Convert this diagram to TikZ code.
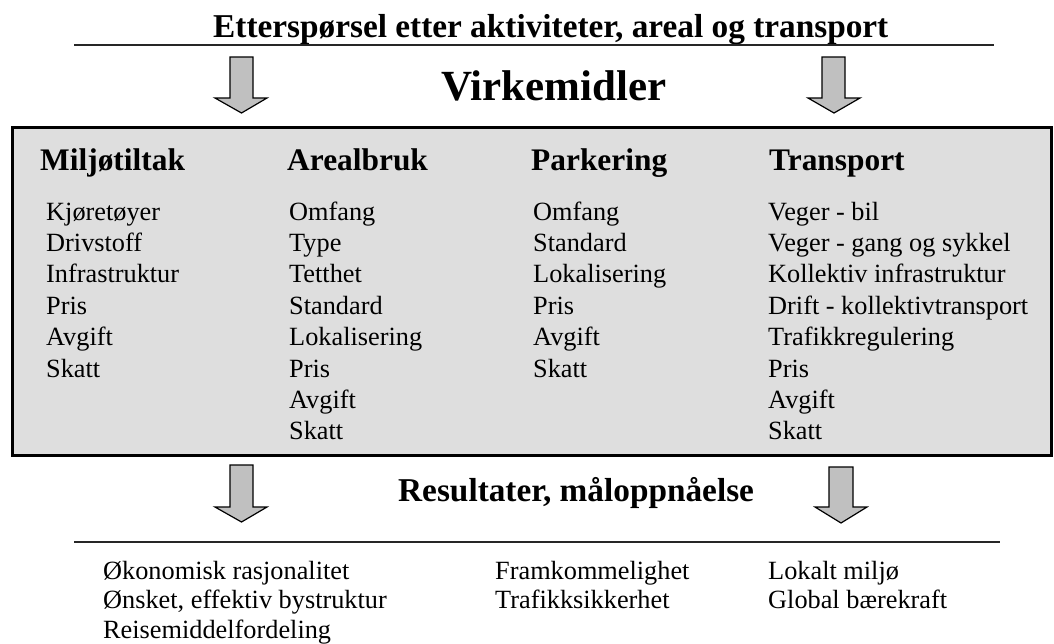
\documentclass[tikz,border=0pt]{standalone}
\usepackage{fontspec}
\setmainfont{Liberation Serif}
\definecolor{boxgray}{HTML}{DEDEDE}
\definecolor{arrowgray}{HTML}{C0C0C0}
\begin{document}
\begin{tikzpicture}[x=1pt,y=-1pt,
  title/.style={font=\fontsize{33.3}{36}\selectfont\bfseries,anchor=base west,inner sep=0},
  bigtitle/.style={font=\fontsize{43}{46}\selectfont\bfseries,anchor=base west,inner sep=0},
  colhead/.style={font=\fontsize{31.4}{34}\selectfont\bfseries,anchor=base west,inner sep=0},
  item/.style={font=\fontsize{26.3}{30}\selectfont,anchor=base west,inner sep=0},
  rule/.style={line width=2pt,black!85},
  blockarrow/.style={draw=black,line width=1.2pt,fill=arrowgray,line join=miter}]
\useasboundingbox (0,0) rectangle (1054,643);
% top title and rule
\node[title] (t1) at (213,37) {Etterspørsel etter aktiviteter, areal og transport};
\coordinate (r1a) at (74,45); \coordinate (r1b) at (994,45);
\draw[rule] (r1a) -- (r1b);
% top arrows
\draw[blockarrow] (230,57) -- (253,57) -- (253,98) -- (267,98) -- (241.5,113) -- (215,98) -- (230,98) -- cycle;
\draw[blockarrow] (822,57) -- (845,57) -- (845,98) -- (860,98) -- (834,113) -- (808,98) -- (822,98) -- cycle;
\node[bigtitle] (virk) at (441,100) {Virkemidler};
% main box
\draw[line width=3pt,fill=boxgray] (12,127) rectangle (1051,455);
\node (box) at (531,291) {};
% column headers
\node[colhead] (h1) at (40,170) {Miljøtiltak};
\node[colhead] (h2) at (287,170) {Arealbruk};
\node[colhead] (h3) at (531,170) {Parkering};
\node[colhead] (h4) at (769,170) {Transport};
% column items
\foreach \t [count=\i] in {Kjøretøyer,Drivstoff,Infrastruktur,Pris,Avgift,Skatt}
  \node[item] (a\i) at (46,{220+(\i-1)*31.4}) {\t};
\foreach \t [count=\i] in {Omfang,Type,Tetthet,Standard,Lokalisering,Pris,Avgift,Skatt}
  \node[item] (b\i) at (289,{220+(\i-1)*31.4}) {\t};
\foreach \t [count=\i] in {Omfang,Standard,Lokalisering,Pris,Avgift,Skatt}
  \node[item] (c\i) at (533,{220+(\i-1)*31.4}) {\t};
\foreach \t [count=\i] in {Veger - bil,Veger - gang og sykkel,Kollektiv infrastruktur,Drift - kollektivtransport,Trafikkregulering,Pris,Avgift,Skatt}
  \node[item] (d\i) at (768,{220+(\i-1)*31.4}) {\t};
% bottom arrows
\draw[blockarrow] (230,465) -- (253,465) -- (253,507) -- (267,507) -- (241.5,522) -- (215,507) -- (230,507) -- cycle;
\draw[blockarrow] (829,467) -- (853,467) -- (853,507) -- (867,507) -- (841,523) -- (815,507) -- (829,507) -- cycle;
\node[title] (res) at (398,501) {Resultater, måloppnåelse};
\coordinate (r2a) at (74,542); \coordinate (r2b) at (1000,542);
\draw[rule] (r2a) -- (r2b);
% results
\foreach \t [count=\i] in {Økonomisk rasjonalitet,{Ønsket, effektiv bystruktur},Reisemiddelfordeling}
  \node[item] (e\i) at (103,{579+(\i-1)*29.5}) {\t};
\foreach \t [count=\i] in {Framkommelighet,Trafikksikkerhet}
  \node[item] (f\i) at (495,{579+(\i-1)*29.5}) {\t};
\foreach \t [count=\i] in {Lokalt miljø,Global bærekraft}
  \node[item] (g\i) at (768,{579+(\i-1)*29.5}) {\t};
\end{tikzpicture}
\end{document}
